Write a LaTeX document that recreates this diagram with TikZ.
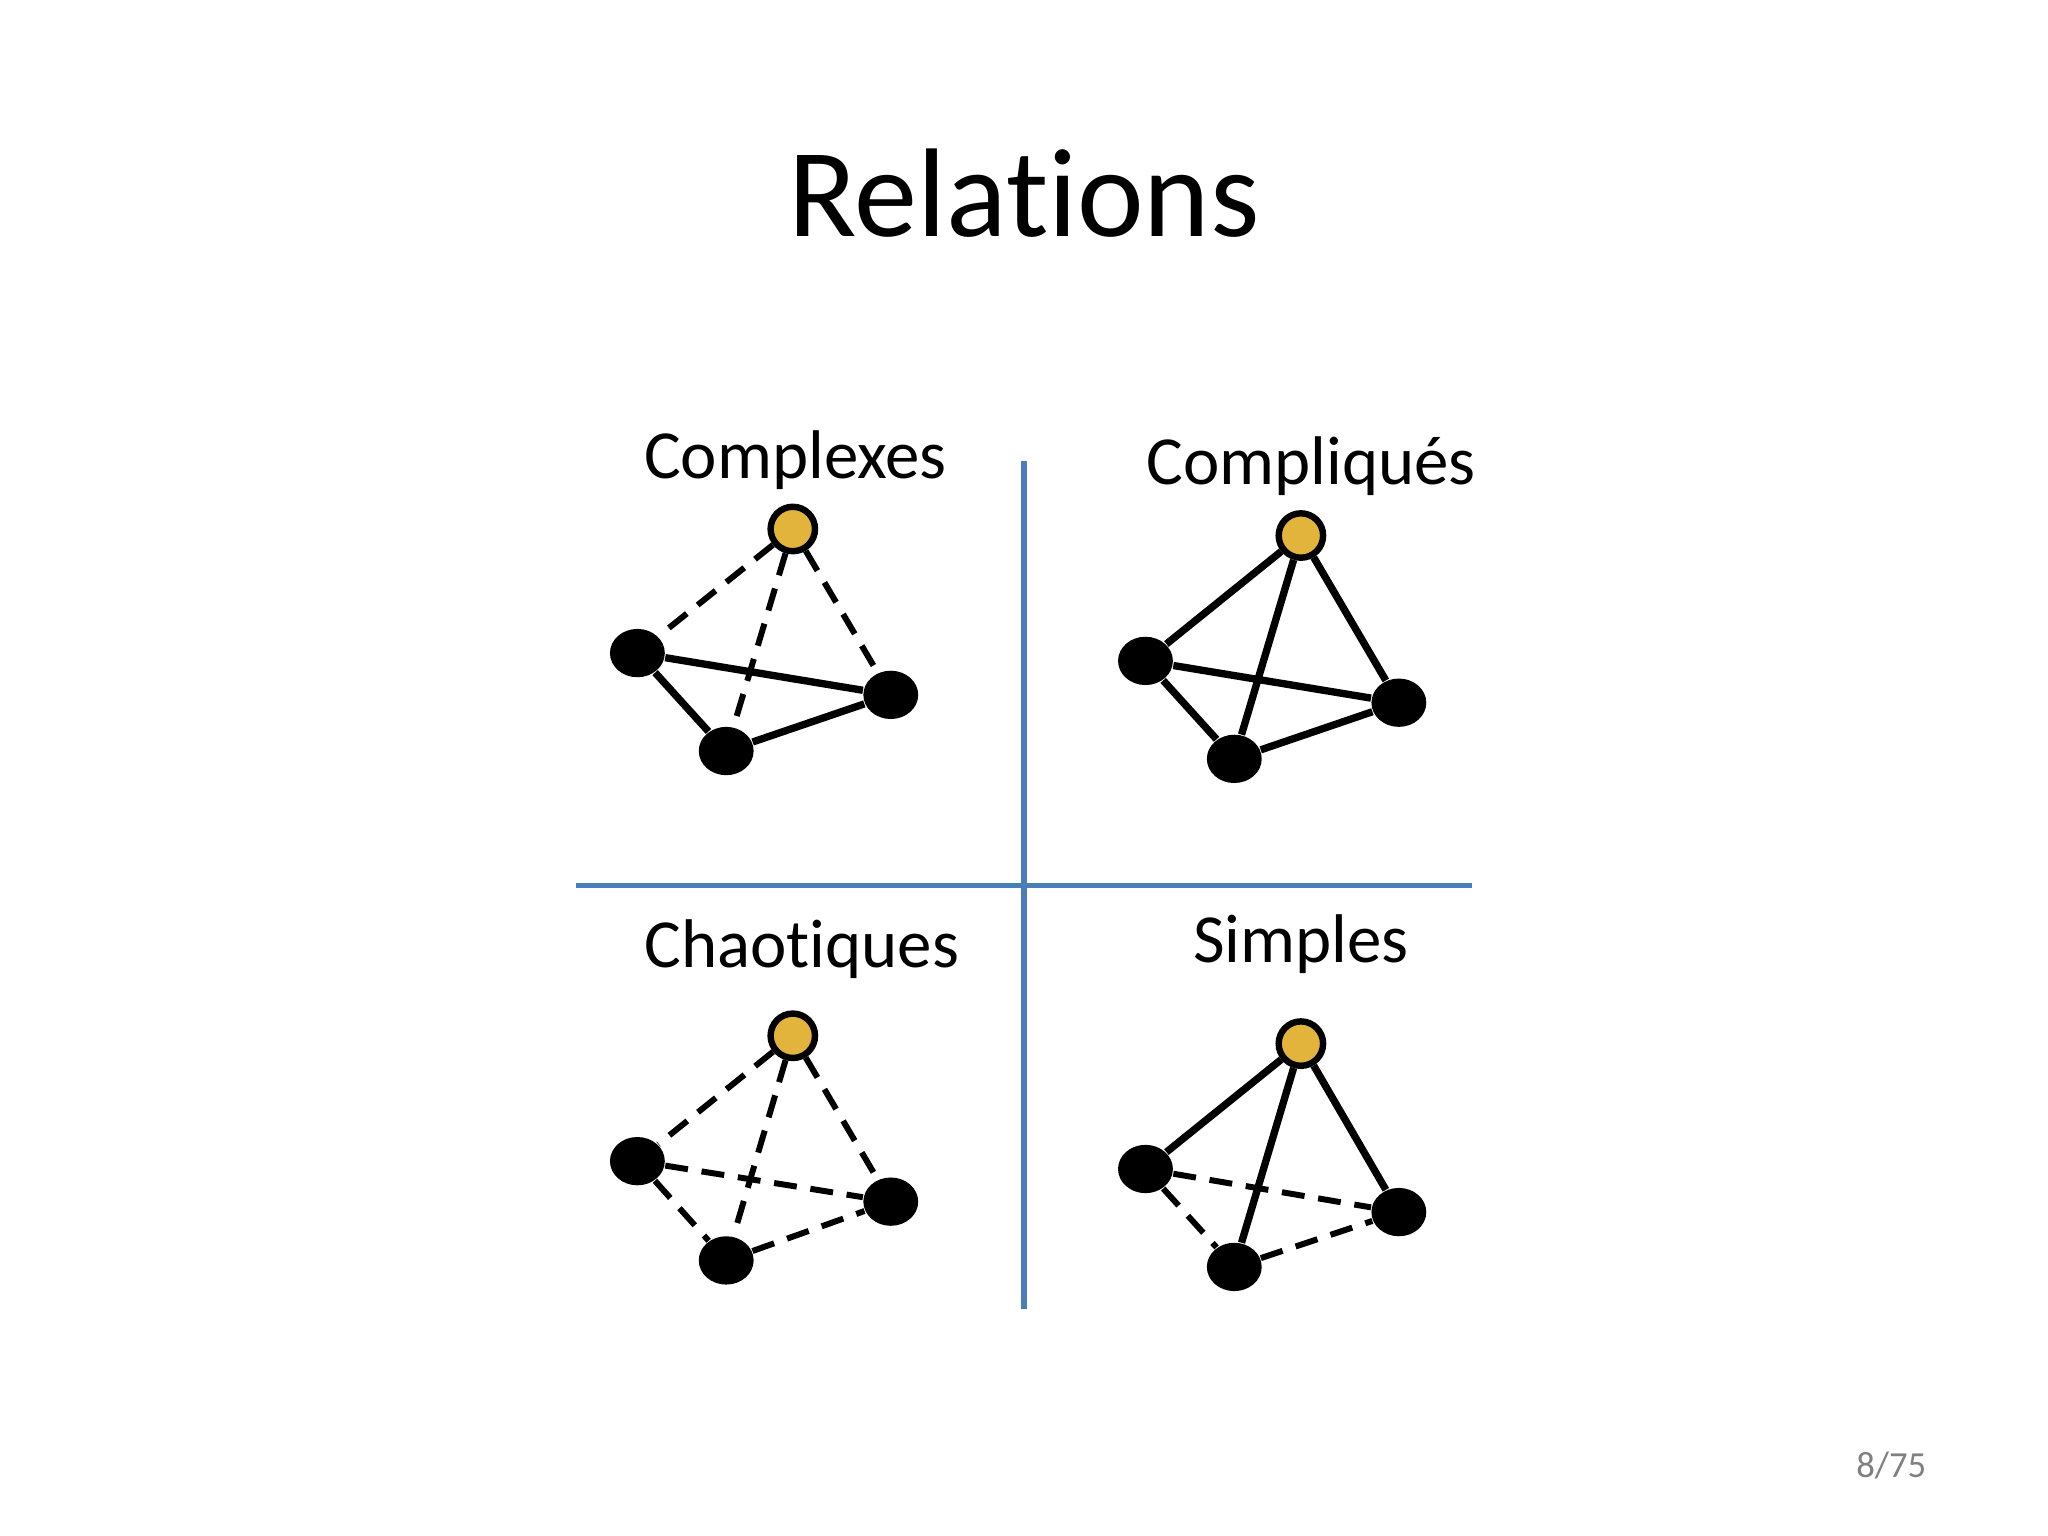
\documentclass[tikz,border=0pt]{standalone}
\usepackage{fontspec}
\setmainfont[Ligatures=NoCommon]{Carlito}
\usetikzlibrary{shapes.geometric}
\definecolor{sepblue}{HTML}{4A7EBB}
\definecolor{nodeyel}{HTML}{E3B43C}
\begin{document}
\begin{tikzpicture}[x=0.1mm,y=-0.1mm,
  yel/.style={circle,draw=black,line width=1.4pt,fill=nodeyel,minimum size=3.4mm,inner sep=0pt},
  blk/.style={ellipse,fill=black,minimum width=4.2mm,minimum height=3.7mm,inner sep=0pt},
  sol/.style={line width=1.6pt},
  dsh/.style={line width=1.3pt,dash pattern=on 5pt off 3pt},
  lab/.style={font=\fontsize{15}{18}\selectfont},
  sep/.style={draw=sepblue,line width=1.1pt}]
\useasboundingbox (0,0) rectangle (1568,1176);
\node[font=\fontsize{27.5}{33}\selectfont] (title) at (784,148) {Relations};
\draw[sep] (784,353) coordinate (v1) -- (784,1002) coordinate (v2);
\draw[sep] (441,678) coordinate (h1) -- (1127,678) coordinate (h2);
\node[lab] (l1) at (609,352) {Complexes};
\node[lab] (l2) at (1004,357) {Compliqués};
\node[lab] (l3) at (614,727) {Chaotiques};
\node[lab] (l4) at (996,723) {Simples};
\node[font=\fontsize{8}{10}\selectfont,text=gray] (pg) at (1448,1122) {8/75};
% Complexes
\node[yel] (y1) at (607,405) {}; \node[blk] (a1) at (488,500) {}; \node[blk] (b1) at (682,532) {}; \node[blk] (c1) at (556,575) {};
\draw[dsh] (y1)--(a1); \draw[dsh] (y1)--(c1); \draw[dsh] (y1)--(b1);
\draw[sol] (a1)--(b1); \draw[sol] (a1)--(c1); \draw[sol] (c1)--(b1);
% Compliques
\node[yel] (y2) at (996,410) {}; \node[blk] (a2) at (877,506) {}; \node[blk] (b2) at (1071,538) {}; \node[blk] (c2) at (945,581) {};
\draw[sol] (y2)--(a2); \draw[sol] (y2)--(c2); \draw[sol] (y2)--(b2);
\draw[sol] (a2)--(b2); \draw[sol] (a2)--(c2); \draw[sol] (c2)--(b2);
% Chaotiques
\node[yel] (y3) at (607,793) {}; \node[blk] (a3) at (488,889) {}; \node[blk] (b3) at (682,920) {}; \node[blk] (c3) at (556,965) {};
\draw[dsh] (y3)--(a3); \draw[dsh] (y3)--(c3); \draw[dsh] (y3)--(b3);
\draw[dsh] (a3)--(b3); \draw[dsh] (a3)--(c3); \draw[dsh] (c3)--(b3);
% Simples
\node[yel] (y4) at (996,799) {}; \node[blk] (a4) at (877,895) {}; \node[blk] (b4) at (1071,928) {}; \node[blk] (c4) at (945,970) {};
\draw[sol] (y4)--(a4); \draw[sol] (y4)--(c4); \draw[sol] (y4)--(b4);
\draw[dsh] (a4)--(b4); \draw[dsh] (a4)--(c4); \draw[dsh] (c4)--(b4);
\end{tikzpicture}
\end{document}
